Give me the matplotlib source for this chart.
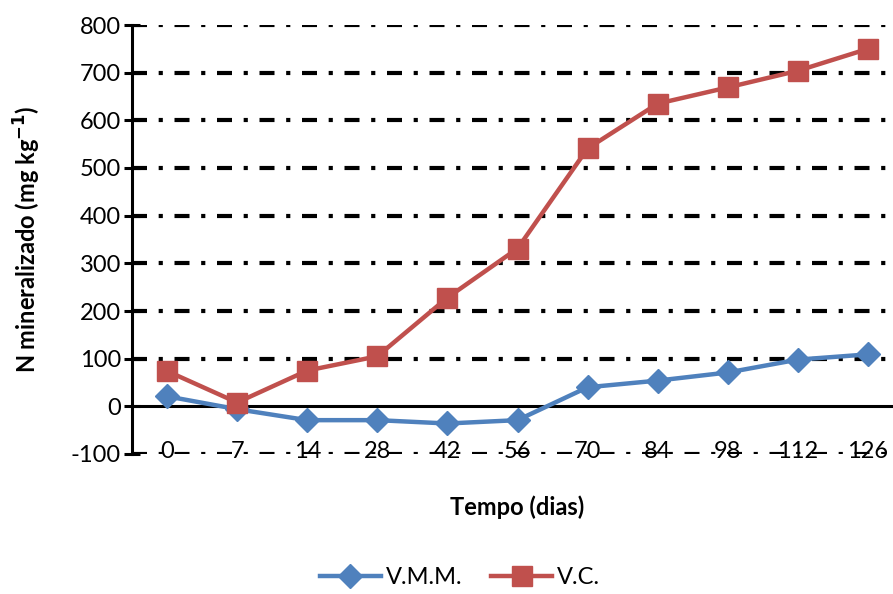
import matplotlib.pyplot as plt
from matplotlib.lines import Line2D

plt.rcParams["font.family"] = ["Lato", "DejaVu Sans"]
plt.rcParams["axes.unicode_minus"] = False

dias = ["0", "7", "14", "28", "42", "56", "70", "84", "98", "112", "126"]
vmm = [21, -6, -29, -29, -36, -29, 40, 54, 71, 98, 109]
vc = [74, 8, 75, 105, 228, 331, 541, 635, 669, 704, 750]

y_ticks = [-100, 0, 100, 200, 300, 400, 500, 600, 700, 800]

fig = plt.figure(figsize=(8.93, 5.94), dpi=100)
ax = fig.add_axes([132 / 893, 1 - 454 / 594, (903 - 132) / 893, (454 - 25) / 594])

x = list(range(len(dias)))

# gridlines, dash-dot like the spreadsheet original
dashdot = (0, (3.6, 2.8, 1.0, 2.8))
for v in y_ticks:
    if v == 0:
        continue
    ax.axhline(v, color="black", lw=3, ls=dashdot, dash_capstyle="butt", zorder=1)
ax.axhline(0, color="black", lw=2.2, zorder=2)

ax.plot(x, vmm, color="#4F81BD", lw=3.2, marker="D", markersize=12, label="V.M.M.", zorder=3)
ax.plot(x, vc, color="#C0504D", lw=3.2, marker="s", markersize=14, label="V.C.", zorder=4)

ax.set_xlim(-0.5, len(dias) - 0.5)
ax.set_ylim(-100, 800)
ax.set_yticks(y_ticks)
ax.set_xticks(x)
ax.set_xticklabels(dias)

for s in ["top", "right", "bottom"]:
    ax.spines[s].set_visible(False)
ax.spines["left"].set_linewidth(2.2)

ax.tick_params(axis="y", direction="inout", length=12, width=2.2, labelsize=17, pad=2)
ax.tick_params(axis="x", length=0, labelsize=17, pad=-9)

ax.set_xlabel("Tempo (dias)", fontsize=17, fontweight="bold", labelpad=24)
ax.set_ylabel("N mineralizado (mg kg$^{\\mathbf{-1}}$)", fontsize=17, fontweight="bold", labelpad=20)

handles = [
    Line2D([], [], color="#4F81BD", lw=3.2, marker="D", markersize=12),
    Line2D([], [], color="#C0504D", lw=3.2, marker="s", markersize=14),
]
fig.legend(handles, ["V.M.M.", "V.C."], loc="center", bbox_to_anchor=(0.515, 1 - 578 / 594),
           ncol=2, frameon=False, fontsize=17, handlelength=2.6, columnspacing=1.2, handletextpad=0.2)

fig.savefig("out.png", dpi=100)
